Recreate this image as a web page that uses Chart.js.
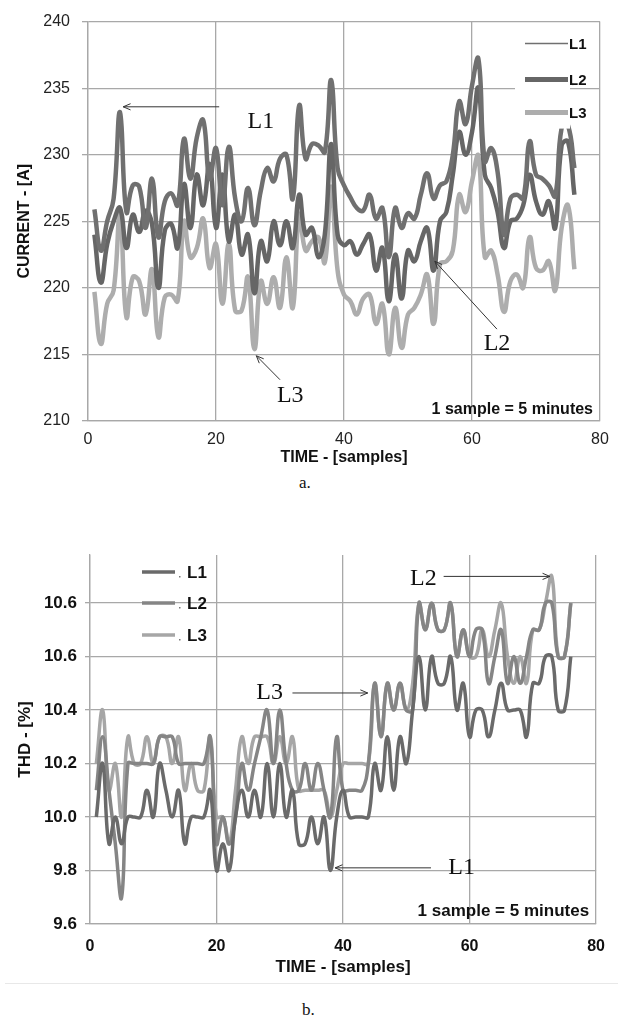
<!DOCTYPE html>
<html>
<head>
<meta charset="utf-8">
<script src="https://cdn.jsdelivr.net/npm/chart.js@4.4.1/dist/chart.umd.min.js"></script>
<style>
  body { margin: 0; background: #fff; width: 618px; height: 1021px; position: relative; overflow: hidden; }
  canvas { position: absolute; left: 0; }
  #currentChart { top: 0; }
  #thdChart { top: 530px; }
  .caption { position: absolute; font-family: "Liberation Serif", "Times New Roman", serif; font-size: 17px; color: #111; }
  #capA { left: 299px; top: 473px; }
  #capB { left: 302px; top: 1000px; }
  .sep { position: absolute; left: 5px; top: 983px; width: 613px; height: 1px; background: #e8e8e8; }
</style>
</head>
<body>
<canvas id="currentChart" width="618" height="470"></canvas>
<canvas id="thdChart" width="618" height="460"></canvas>
<div class="sep"></div>
<div class="caption" id="capA">a.</div>
<div class="caption" id="capB">b.</div>
<script>
// phase currents [A], one value per sample (1 sample = 5 minutes)
const currentL1 = [225.9, 222.8, 225.0, 226.7, 233.2, 225.7, 227.7, 227.6, 224.5, 228.2,
                   223.8, 226.5, 227.1, 226.2, 231.2, 228.2, 231.3, 232.6, 228.2, 230.5,
                   226.2, 230.6, 226.7, 225.0, 227.5, 224.7, 227.3, 229.0, 228.0, 229.7,
                   230.0, 226.7, 233.7, 229.7, 230.8, 230.7, 230.2, 235.6, 229.0, 227.7,
                   226.8, 226.0, 225.8, 227.0, 225.2, 226.0, 222.3, 226.0, 224.5, 225.6,
                   225.2, 227.0, 228.6, 226.7, 227.7, 228.0, 230.0, 234.0, 232.3, 235.2,
                   237.2, 229.5, 230.5, 228.7, 224.0, 226.7, 227.0, 226.7, 231.0, 228.5,
                   228.2, 227.7, 226.9, 232.0, 232.2, 229.0];
const currentL2 = [224.0, 220.4, 223.3, 225.0, 226.0, 223.0, 225.5, 224.2, 225.8, 224.8,
                   220.0, 224.3, 224.8, 223.0, 227.8, 224.5, 228.5, 226.2, 229.3, 224.5,
                   228.5, 223.5, 225.5, 222.5, 224.0, 219.6, 223.5, 222.0, 225.0, 223.2,
                   225.0, 223.0, 227.0, 224.0, 224.5, 222.3, 224.0, 230.8, 224.0, 223.2,
                   223.5, 222.5, 223.3, 224.0, 221.3, 223.0, 219.0, 222.5, 219.2, 222.8,
                   222.0, 223.5, 224.5, 221.3, 225.0, 225.7, 228.5, 231.7, 230.0, 231.7,
                   235.0, 228.5, 227.5, 225.7, 223.0, 225.0, 225.2, 226.2, 228.5, 226.5,
                   225.5, 226.5, 224.5, 230.7, 231.0, 227.0];
const currentL3 = [219.7, 215.8, 218.8, 219.8, 225.5, 217.8, 220.8, 220.5, 218.0, 221.4,
                   216.3, 219.3, 219.5, 219.0, 225.0, 222.3, 223.0, 225.2, 221.5, 223.3,
                   218.8, 223.3, 218.3, 218.3, 220.8, 215.4, 220.5, 218.8, 220.8, 218.5,
                   222.3, 218.5, 225.5, 222.8, 223.5, 223.8, 221.9, 227.6, 221.3, 219.5,
                   219.0, 218.0, 219.2, 219.5, 217.3, 218.8, 215.0, 218.5, 215.5, 218.0,
                   218.5, 219.5, 221.0, 217.3, 221.8, 222.0, 222.8, 227.0, 225.7, 228.0,
                   229.9, 222.3, 222.8, 221.0, 218.2, 220.5, 221.0, 220.0, 223.8, 221.5,
                   221.3, 222.0, 219.8, 224.5, 226.2, 221.4];

// THD [%]
const thdL1 = [10.0, 10.2, 9.9, 10.0, 9.9, 10.0, 10.0, 10.0, 10.1, 10.0,
               10.2, 10.1, 10.0, 10.1, 9.9, 10.0, 10.0, 10.0, 10.1, 9.8,
               9.9, 9.8, 10.0, 10.1, 10.0, 10.1, 10.0, 10.2, 10.0, 10.2,
               10.0, 10.1, 9.9, 9.9, 10.0, 9.9, 10.0, 9.8, 10.0, 10.1,
               10.0, 10.0, 10.0, 10.0, 10.2, 10.1, 10.3, 10.1, 10.3, 10.2,
               10.4, 10.6, 10.4, 10.6, 10.5, 10.5, 10.6, 10.4, 10.5, 10.3,
               10.4, 10.4, 10.3, 10.4, 10.5, 10.4, 10.4, 10.4, 10.3, 10.5,
               10.5, 10.6, 10.6, 10.4, 10.4, 10.6];
const thdL2 = [10.1, 10.3, 10.1, 9.9, 9.7, 10.2, 10.2, 10.2, 10.2, 10.2,
               10.3, 10.3, 10.3, 10.2, 10.2, 10.2, 10.2, 10.2, 10.3, 9.9,
               10.0, 9.9, 10.0, 10.2, 10.1, 10.2, 10.3, 10.4, 10.2, 10.4,
               10.2, 10.1, 10.1, 10.2, 10.1, 10.2, 10.1, 10.0, 10.3, 10.1,
               10.1, 10.1, 10.1, 10.2, 10.5, 10.3, 10.5, 10.4, 10.5, 10.4,
               10.4, 10.8, 10.7, 10.8, 10.7, 10.7, 10.8, 10.6, 10.7, 10.6,
               10.7, 10.7, 10.5, 10.6, 10.7, 10.5, 10.6, 10.5, 10.6, 10.7,
               10.7, 10.8, 10.8, 10.6, 10.6, 10.8];
const thdL3 = [10.2, 10.4, 10.1, 10.2, 10.0, 10.3, 10.2, 10.2, 10.3, 10.2,
               10.3, 10.3, 10.2, 10.3, 10.1, 10.2, 10.1, 10.1, 10.3, 10.0,
               10.0, 9.9, 10.1, 10.3, 10.2, 10.3, 10.3, 10.3, 10.2, 10.3,
               10.2, 10.3, 10.1, 10.1, 10.1, 10.1, 10.1, 10.0, 10.1, 10.2,
               10.2, 10.2, 10.2, 10.2, 10.5, 10.3, 10.5, 10.4, 10.5, 10.4,
               10.5, 10.8, 10.7, 10.8, 10.7, 10.7, 10.8, 10.6, 10.7, 10.6,
               10.6, 10.7, 10.6, 10.7, 10.8, 10.6, 10.5, 10.6, 10.5, 10.7,
               10.7, 10.8, 10.9, 10.6, 10.6, 10.8];

const seriesNames = ['L1', 'L2', 'L3'];
const thdTickValues = [9.6, 9.8, 10.0, 10.2, 10.4, 10.6, 10.8];
const thdTickLabels = ['9.6', '9.8', '10.0', '10.2', '10.4', '10.6', '10.6'];

const SANS = '"Liberation Sans", Arial, sans-serif';
const SERIF = '"Liberation Serif", "Times New Roman", serif';
const GRID = '#a8a8a8';

function toPoints(values) {
    return values.map((v, i) => ({x: i + 1, y: v}));
}

function drawArrow(ctx, x1, y1, x2, y2) {
    const a = Math.atan2(y2 - y1, x2 - x1), h = 8;
    ctx.save();
    ctx.strokeStyle = '#333';
    ctx.lineWidth = 1;
    ctx.beginPath();
    ctx.moveTo(x1, y1);
    ctx.lineTo(x2, y2);
    ctx.moveTo(x2 - h * Math.cos(a - 0.4), y2 - h * Math.sin(a - 0.4));
    ctx.lineTo(x2, y2);
    ctx.lineTo(x2 - h * Math.cos(a + 0.4), y2 - h * Math.sin(a + 0.4));
    ctx.stroke();
    ctx.restore();
}

// text + arrow callouts, placed in data units
const notesPlugin = {
    id: 'notes',
    afterDatasetsDraw(chart) {
        const o = chart.options.plugins.notes;
        const {ctx, chartArea: area, scales: {x, y}} = chart;
        ctx.save();

        o.callouts.forEach(c => {
            drawArrow(ctx, x.getPixelForValue(c.from[0]), y.getPixelForValue(c.from[1]),
                      x.getPixelForValue(c.to[0]), y.getPixelForValue(c.to[1]));
            ctx.font = '24px ' + SERIF;
            ctx.fillStyle = '#111';
            ctx.textAlign = 'center';
            ctx.textBaseline = 'middle';
            ctx.fillText(c.text, x.getPixelForValue(c.at[0]), y.getPixelForValue(c.at[1]));
        });

        // legend
        const lg = o.legend;
        if (lg.box) {
            ctx.fillStyle = '#fff';
            ctx.fillRect(area.left + lg.box[0], area.top + lg.box[1], lg.box[2], lg.box[3]);
        }
        chart.data.datasets.forEach((ds, i) => {
            const ly = area.top + lg.rows[i];
            ctx.strokeStyle = ds.borderColor;
            ctx.lineWidth = lg.widths[i];
            ctx.beginPath();
            ctx.moveTo(area.left + lg.lineX[0], ly);
            ctx.lineTo(area.left + lg.lineX[1], ly);
            ctx.stroke();
            ctx.fillStyle = '#777';
            ctx.fillRect(area.left + lg.lineX[1] + 4, ly + 4, 1.5, 1.5);
            ctx.fillStyle = '#111';
            ctx.font = 'bold ' + lg.size + 'px ' + SANS;
            ctx.textAlign = 'left';
            ctx.textBaseline = 'middle';
            ctx.fillText(seriesNames[i], area.left + lg.textX, ly + 1);
        });

        ctx.font = 'bold ' + o.note.size + 'px ' + SANS;
        ctx.fillStyle = '#111';
        ctx.textAlign = 'right';
        ctx.textBaseline = 'alphabetic';
        ctx.fillText('1 sample = 5 minutes', area.right - 7, area.bottom - o.note.lift);
        ctx.restore();
    }
};

new Chart(document.getElementById('currentChart'), {
    type: 'line',
    data: {
        datasets: [
            {label: 'L1', data: toPoints(currentL1), borderColor: '#707070', borderWidth: 4.5},
            {label: 'L2', data: toPoints(currentL2), borderColor: '#666666', borderWidth: 4.5},
            {label: 'L3', data: toPoints(currentL3), borderColor: '#adadad', borderWidth: 4.5}
        ]
    },
    options: {
        responsive: false,
        animation: false,
        layout: {padding: {left: 0, right: 18, top: 18, bottom: 0}},
        elements: {point: {radius: 0}, line: {tension: 0.45, fill: false}},
        plugins: {
            legend: {display: false},
            tooltip: {enabled: false},
            notes: {
                callouts: [
                    {text: 'L1', at: [27.0, 232.5], from: [20.5, 233.6], to: [5.5, 233.6]},
                    {text: 'L3', at: [31.6, 211.9], from: [30.0, 213.1], to: [26.3, 214.9]},
                    {text: 'L2', at: [63.9, 215.8], from: [63.9, 216.9], to: [54.2, 222.0]}
                ],
                legend: {box: [427, 7, 55, 100], lineX: [437, 480], textX: 481,
                         rows: [22, 58, 91], widths: [1.5, 5, 5], size: 15},
                note: {size: 16, lift: 7}
            }
        },
        scales: {
            x: {
                type: 'linear', min: 0, max: 80,
                ticks: {stepSize: 20, padding: 9, color: '#222', font: {family: SANS, size: 16}},
                grid: {color: GRID, lineWidth: 1.3, drawTicks: false},
                border: {color: GRID, width: 1.3},
                title: {display: true, text: 'TIME - [samples]', color: '#111',
                        font: {family: SANS, size: 16, weight: 'bold'}, padding: {top: 0, bottom: 3}},
                afterFit: s => { s.height = 49; }
            },
            y: {
                min: 210, max: 240,
                ticks: {stepSize: 5, padding: 12, color: '#222', font: {family: SANS, size: 16}},
                grid: {color: GRID, lineWidth: 1.3, drawTicks: true, tickLength: 6},
                border: {color: GRID, width: 1.3},
                title: {display: true, text: 'CURRENT - [A]', color: '#111',
                        font: {family: SANS, size: 16, weight: 'bold'}, padding: {top: 15, bottom: 0}},
                afterFit: s => { s.width = 88; }
            }
        }
    },
    plugins: [notesPlugin]
});

new Chart(document.getElementById('thdChart'), {
    type: 'line',
    data: {
        datasets: [
            {label: 'L1', data: toPoints(thdL1), borderColor: '#6a6a6a', borderWidth: 3.5},
            {label: 'L2', data: toPoints(thdL2), borderColor: '#858585', borderWidth: 3.5},
            {label: 'L3', data: toPoints(thdL3), borderColor: '#a6a6a6', borderWidth: 3.5}
        ]
    },
    options: {
        responsive: false,
        animation: false,
        layout: {padding: {left: 0, right: 16, top: 25, bottom: 0}},
        elements: {point: {radius: 0}, line: {tension: 0.45, fill: false}},
        plugins: {
            legend: {display: false},
            tooltip: {enabled: false},
            notes: {
                callouts: [
                    {text: 'L2', at: [52.7, 10.893], from: [55.9, 10.9], to: [72.7, 10.9]},
                    {text: 'L3', at: [28.4, 10.464], from: [32.0, 10.464], to: [43.9, 10.464]},
                    {text: 'L1', at: [58.75, 9.81], from: [53.9, 9.81], to: [38.75, 9.81]}
                ],
                legend: {box: null, lineX: [52, 85], textX: 97,
                         rows: [17, 48, 80], widths: [3.5, 3.5, 3.5], size: 17},
                note: {size: 17, lift: 8}
            }
        },
        scales: {
            x: {
                type: 'linear', min: 0, max: 80,
                ticks: {stepSize: 20, padding: 13, color: '#111', font: {family: SANS, size: 16, weight: 'bold'}},
                grid: {color: GRID, lineWidth: 1.3, drawTicks: false},
                border: {color: GRID, width: 1.3},
                title: {display: true, text: 'TIME - [samples]', color: '#111',
                        font: {family: SANS, size: 17, weight: 'bold'}, padding: {top: 0, bottom: 12.8}},
                afterFit: s => { s.height = 66; }
            },
            y: {
                min: 9.6, max: 10.98,
                afterBuildTicks: s => { s.ticks = thdTickValues.map(v => ({value: v})); },
                ticks: {padding: 8, color: '#111', font: {family: SANS, size: 17, weight: 'bold'},
                        callback: (v, i) => thdTickLabels[i]},
                grid: {color: GRID, lineWidth: 1.3, drawTicks: true, tickLength: 5},
                border: {color: GRID, width: 1.3},
                title: {display: true, text: 'THD - [%]', color: '#111',
                        font: {family: SANS, size: 17, weight: 'bold'}, padding: {top: 14.8, bottom: 0}},
                afterFit: s => { s.width = 90; }
            }
        }
    },
    plugins: [notesPlugin]
});
</script>
</body>
</html>
